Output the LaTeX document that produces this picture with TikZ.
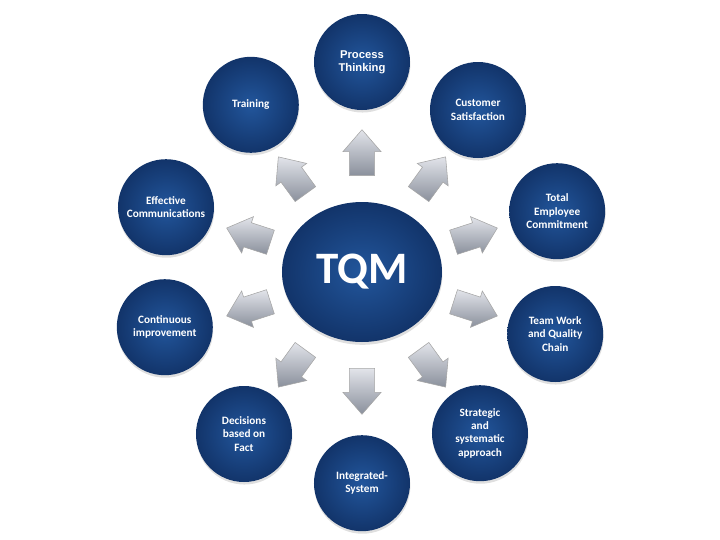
\documentclass[tikz,border=0pt]{standalone}
\usepackage{fontspec}
\setmainfont{Carlito}
\newfontfamily\arialfont{Liberation Sans}
\usepackage{xcolor}
\usetikzlibrary{shapes.geometric,shapes.arrows,shadows}
\definecolor{tqmblue}{RGB}{34,86,156}
\definecolor{tqmdark}{RGB}{18,52,106}
\definecolor{steellight}{RGB}{226,228,234}
\definecolor{steeldark}{RGB}{138,144,156}

\begin{document}
\begin{tikzpicture}[
  topic/.style={circle, minimum size=2.4cm, inner sep=1pt, inner color=tqmblue, outer color=tqmdark,
    drop shadow={opacity=0.25, shadow xshift=0.3pt, shadow yshift=-1.8pt},
    text=white, align=center, font=\bfseries\fontsize{8}{9.5}\selectfont},
  pointer/.style={single arrow, minimum height=1.15cm, minimum width=0.95cm, inner xsep=0pt, inner ysep=0.31cm,
    single arrow head extend=0.16cm, single arrow tip angle=82,
    top color=steellight, bottom color=steeldark, draw=gray!70, line width=0.4pt}
]
\useasboundingbox (-9.05,-6.7) rectangle (8.95,6.8);
% centre
\node[ellipse, minimum width=4cm, minimum height=3.5cm, inner color=tqmblue, outer color=tqmdark,
  drop shadow={opacity=0.25, shadow xshift=0.3pt, shadow yshift=-2pt},
  text=white, font=\bfseries\fontsize{32}{36}\selectfont] (tqm) at (0,0) {TQM};
% outer ring
\node[topic, font=\arialfont\bfseries\fontsize{8}{9.5}\selectfont] (proc) at (0,5.25) {Process\\Thinking};
\node[topic] (cust) at (2.9,4.05) {Customer\\Satisfaction};
\node[topic] (empl) at (4.88,1.52) {Total\\Employee\\Commitment};
\node[topic] (team) at (4.83,-1.55) {Team Work\\and Quality\\Chain};
\node[topic] (strat) at (2.95,-4.03) {Strategic\\and\\systematic\\approach};
\node[topic] (integ) at (0,-5.28) {Integrated-\\System};
\node[topic] (decis) at (-2.95,-4.05) {Decisions\\based on\\Fact};
\node[topic] (cont) at (-4.93,-1.38) {Continuous\\improvement};
\node[topic] (effc) at (-4.9,1.62) {Effective\\Communications};
\node[topic] (train) at (-2.78,4.18) {Training};
% arrows
\node[pointer, rotate=90] (a1) at (90:2.8) {};
\node[pointer, rotate=54] (a2) at (54:2.8) {};
\node[pointer, rotate=18] (a3) at (18:2.8) {};
\node[pointer, rotate=-18] (a4) at (-18:2.8) {};
\node[pointer, rotate=-54] (a5) at (-54:2.8) {};
\node[pointer, rotate=-90] (a6) at (-90:2.8) {};
\node[pointer, rotate=-126] (a7) at (-126:2.8) {};
\node[pointer, rotate=-162] (a8) at (-162:2.8) {};
\node[pointer, rotate=162] (a9) at (162:2.8) {};
\node[pointer, rotate=126] (a10) at (126:2.8) {};
\end{tikzpicture}
\end{document}
